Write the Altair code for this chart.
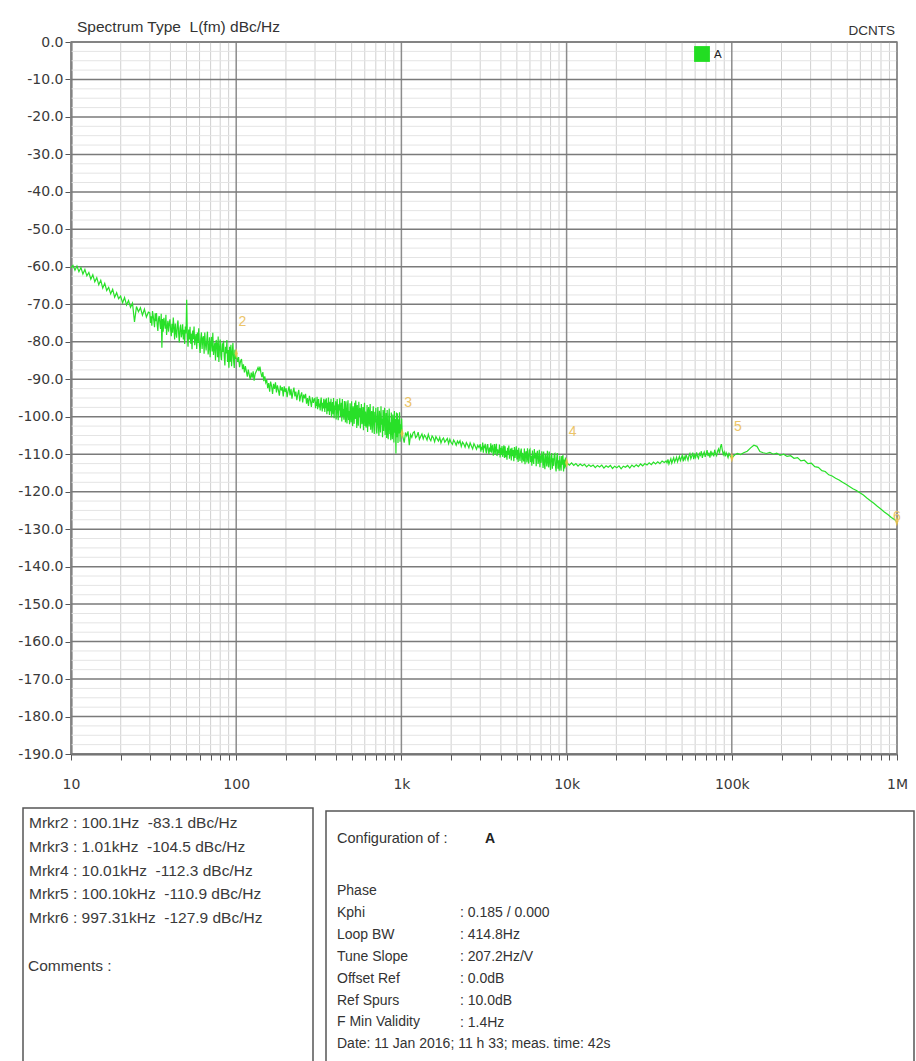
import altair as alt
import numpy as np
import pandas as pd

# ---------------- values ----------------
# each noisy segment: (start Hz, end Hz, levels in dBc/Hz)
lv_10_30 = [-60.3, -59.6, -60.9, -59.8, -61.3, -60.2, -61.9, -60.7, -62.4, -61.5, -63.3, -62.1, -64.0,
            -62.9, -64.8, -63.6, -65.7, -64.4, -66.3, -65.5, -67.2, -66.0, -68.1, -66.9, -68.5, -67.8,
            -69.6, -68.2, -70.2, -69.0, -70.8, -69.7, -74.7, -70.6, -72.0, -70.9, -72.9, -71.3, -73.4, -72.1]
lv_30_100 = [-72.3, -75.0, -73.2, -75.7, -71.8, -73.0, -74.4, -76.1, -72.4, -74.5,
             -72.3, -75.5, -77.1, -73.8, -73.1, -75.0, -76.6, -72.5, -81.6, -73.9,
             -77.3, -73.6, -75.1, -76.5, -72.8, -78.2, -76.0, -74.4, -77.3, -75.2,
             -74.0, -76.7, -78.5, -75.2, -77.6, -73.5, -76.2, -79.4, -75.1, -77.5,
             -78.9, -75.5, -74.3, -77.7, -80.2, -76.4, -75.4, -78.8, -77.6, -75.3,
             -79.4, -76.8, -80.6, -75.9, -77.8, -68.8, -78.4, -81.3, -76.7, -79.4,
             -76.0, -80.5, -77.8, -82.0, -77.0, -79.3, -75.9, -80.9, -79.1, -77.9,
             -81.9, -77.5, -80.3, -76.4, -80.9, -83.0, -79.1, -77.5, -81.9, -79.1,
             -78.5, -83.2, -77.5, -80.5, -82.3, -79.5, -77.3, -83.4, -81.7, -78.8,
             -84.1, -80.3, -78.7, -82.6, -77.6, -83.5, -81.8, -80.3, -85.0, -79.5,
             -80.6, -84.1, -78.6, -85.4, -81.6, -79.4, -83.7, -84.9, -80.4, -82.7,
             -79.7, -83.8, -86.3, -81.3, -83.1, -79.5, -85.4, -82.2, -86.9, -81.3,
             -85.3, -80.8, -86.5, -82.9, -80.3, -85.0, -87.0, -82.1, -84.6, -83.1]
lv_100_300 = [-85.4, -84.1, -86.8, -85.2, -84.6, -87.3, -86.0, -88.2, -86.5, -87.9,
              -89.3, -87.4, -88.8, -90.1, -88.2, -89.6, -87.9, -90.4, -88.6, -88.0,
              -87.5, -86.9, -87.8, -86.6, -88.3, -89.4, -88.1, -90.5, -89.2, -90.9,
              -90.2, -92.4, -91.0, -93.3, -90.6, -91.8, -93.9, -91.2, -92.6, -90.8,
              -93.5, -91.6, -92.9, -94.4, -91.7, -93.0, -92.1, -94.6, -91.9, -93.4,
              -92.4, -94.8, -93.1, -91.9, -94.3, -92.6, -95.2, -93.4, -92.2, -94.6,
              -93.3, -95.6, -94.0, -92.8, -95.9, -94.4, -93.5, -96.2, -94.1, -95.1,
              -93.9, -96.5, -95.0, -97.1, -94.4, -95.7, -97.4, -94.8, -96.3, -95.3]
lv_300_1k = [-95.1, -97.7, -96.0, -97.1, -94.7, -98.0, -95.7, -95.3, -97.5, -96.5,
             -98.3, -95.8, -94.9, -97.2, -98.6, -96.3, -97.8, -95.2, -96.9, -98.7,
             -95.4, -97.7, -95.1, -99.3, -96.3, -98.5, -94.9, -97.4, -99.5, -96.0,
             -98.5, -95.2, -100.1, -97.3, -96.1, -99.3, -95.0, -100.4, -97.0, -98.2,
             -95.9, -100.7, -97.3, -95.3, -99.2, -100.9, -96.7, -98.3, -95.1, -100.0,
             -98.8, -96.3, -101.3, -95.3, -99.9, -97.9, -100.8, -95.8, -97.3, -101.5,
             -95.9, -99.7, -101.8, -97.1, -95.6, -100.9, -98.5, -102.0, -96.4, -99.4,
             -101.5, -95.9, -99.4, -102.5, -97.2, -98.4, -101.9, -96.3, -100.6, -95.7,
             -98.4, -103.0, -96.9, -100.7, -102.4, -96.0, -99.9, -97.7, -103.1, -99.2,
             -96.6, -102.0, -100.7, -97.4, -103.6, -98.9, -96.3, -102.5, -98.6, -102.9,
             -101.6, -96.9, -104.1, -99.1, -97.4, -102.6, -100.4, -96.6, -103.5, -99.5,
             -98.5, -104.3, -100.1, -97.2, -102.6, -104.6, -98.7, -101.5, -97.6, -103.5,
             -104.5, -99.8, -97.4, -102.8, -105.1, -98.4, -100.7, -104.2, -97.2, -102.1,
             -100.5, -105.5, -98.2, -103.8, -99.7, -97.6, -104.9, -101.9, -99.0, -105.7,
             -98.2, -103.8, -106.0, -100.3, -97.8, -104.7, -101.5, -106.3, -98.9, -103.2,
             -106.0, -99.4, -101.5, -106.9, -98.5, -104.3, -100.6, -109.8, -98.9, -105.5,
             -99.1, -107.0, -100.7, -104.5, -98.8, -106.7, -102.0, -104.3, -100.5, -104.5]
lv_1k_3k = [-106.9, -104.2, -105.1, -103.9, -107.6, -104.8, -105.5, -104.3, -104.0, -105.6,
            -105.2, -104.1, -106.0, -105.3, -104.6, -105.9, -104.9, -105.4, -106.2, -104.7,
            -105.8, -106.4, -105.1, -105.6, -106.7, -105.3, -105.9, -106.5, -105.5, -107.0,
            -106.1, -105.7, -106.8, -106.3, -105.8, -107.2, -106.0, -106.9, -107.4, -106.2,
            -106.8, -107.6, -106.5, -107.1, -106.4, -107.9, -106.8, -107.3, -108.1, -106.9,
            -107.5, -108.3, -107.0, -107.8, -108.6, -107.2, -107.9, -108.7, -107.6, -108.2]
lv_3k_10k = [-107.3, -109.3, -108.0, -108.8, -106.9, -109.6, -107.7, -108.4, -107.2, -109.1,
             -109.8, -107.8, -107.3, -108.9, -110.0, -108.2, -109.3, -107.1, -109.6, -107.9,
             -107.7, -110.4, -109.1, -107.3, -110.0, -108.4, -107.2, -110.5, -108.7, -109.7,
             -109.6, -107.4, -110.9, -108.3, -110.1, -107.8, -110.7, -108.9, -107.6, -111.0,
             -107.9, -110.8, -109.1, -111.5, -108.3, -110.1, -107.7, -111.2, -109.7, -108.5,
             -111.7, -108.3, -110.5, -108.9, -111.9, -108.1, -111.0, -109.5, -107.9, -111.4,
             -108.8, -112.1, -108.3, -110.5, -111.8, -109.3, -108.5, -112.3, -109.6, -111.1,
             -111.9, -108.5, -112.7, -109.8, -109.2, -112.2, -108.4, -111.3, -112.5, -109.0,
             -108.7, -112.1, -110.4, -113.1, -109.0, -111.5, -112.6, -108.6, -111.1, -109.6,
             -113.2, -110.0, -109.1, -112.6, -111.6, -108.8, -113.5, -110.3, -112.3, -109.2,
             -110.6, -113.7, -109.3, -112.5, -114.0, -109.9, -111.2, -113.3, -109.1, -112.1,
             -113.5, -109.3, -112.0, -114.2, -110.4, -109.7, -113.9, -111.1, -113.1, -110.0,
             -109.8, -113.2, -114.6, -111.0, -109.7, -113.9, -111.6, -114.4, -110.4, -112.9,
             -114.4, -110.5, -112.8, -110.2, -114.6, -111.4, -113.8, -110.9, -113.3, -112.3]
lv_10k_40k = [-112.9, -112.3, -113.0, -112.5, -113.2, -112.6, -113.1, -112.7, -113.4, -112.8,
              -113.3, -112.9, -113.6, -113.0, -113.4, -112.9, -113.7, -113.1, -113.5, -113.0,
              -113.8, -113.2, -113.6, -113.1, -113.9, -113.2, -113.5, -113.0, -113.7, -112.9,
              -113.4, -112.8, -113.3, -112.6, -113.1, -112.5, -112.9, -112.3, -112.8, -112.1,
              -112.6, -112.0, -112.5, -111.8, -112.2]
lv_40k_100k = [-111.8, -112.3, -111.4, -112.6, -111.9, -111.2, -112.4, -111.6, -110.9, -112.1,
               -111.5, -110.8, -112.0, -111.3, -110.6, -111.7, -111.0, -110.3, -111.9, -110.7,
               -111.4, -110.1, -110.9, -111.6, -110.4, -109.8, -111.2, -110.5, -109.6, -111.3,
               -110.2, -110.9, -109.5, -110.6, -111.1, -109.8, -110.3, -109.2, -111.0, -110.0,
               -109.4, -110.7, -109.9, -108.9, -110.5, -109.6, -110.9, -109.1, -110.2, -109.7,
               -110.6, -108.8, -109.9, -110.4, -109.2, -108.6, -109.8, -108.1, -107.3, -108.9,
               -110.1, -109.4, -110.6, -109.6, -110.2, -110.9, -109.8, -110.3, -110.7, -110.9]
seg_100k_1M = [
    (104000, -110.2), (108000, -109.8), (113000, -110.1), (118000, -109.6), (124000, -109.2),
    (130000, -108.3), (136000, -107.6), (142000, -107.9), (148000, -109.3), (155000, -109.6),
    (162000, -109.8), (170000, -109.5), (178000, -110.0), (187000, -109.7), (196000, -110.3),
    (206000, -110.0), (216000, -110.6), (227000, -110.4), (238000, -111.1), (250000, -110.9),
    (262000, -111.8), (275000, -111.6), (289000, -112.5), (303000, -112.4), (318000, -113.3),
    (334000, -113.5), (351000, -114.4), (368000, -114.6), (386000, -115.5), (405000, -115.8),
    (425000, -116.4), (446000, -116.9), (468000, -117.5), (491000, -118.0), (515000, -118.6),
    (541000, -119.2), (568000, -119.7), (596000, -120.3), (626000, -120.9), (657000, -121.7),
    (690000, -122.4), (724000, -123.1), (760000, -123.9), (798000, -124.6), (838000, -125.4),
    (880000, -126.1), (924000, -126.9), (970000, -127.5), (997310, -127.9),
]
segments = [
    (10, 29.4, lv_10_30), (30, 100.1, lv_30_100), (102, 297, lv_100_300),
    (300, 1010, lv_300_1k), (1040, 2950, lv_1k_3k), (3000, 10010, lv_3k_10k),
    (10400, 39000, lv_10k_40k), (40000, 100100, lv_40k_100k),
]

marker_freq = [100.1, 1010, 10010, 100100, 997310]
marker_level = [-83.1, -104.5, -112.3, -110.9, -127.9]
marker_label = ["2", "3", "4", "5", "6"]

y_ticks = [-190, -180, -170, -160, -150, -140, -130, -120, -110, -100,
           -90, -80, -70, -60, -50, -40, -30, -20, -10, 0]
x_decades = [10, 100, 1000, 10000, 100000, 1000000]
x_all_ticks = [m * d for d in [10, 100, 1000, 10000, 100000] for m in range(1, 10)] + [1000000]
x_minor = [v for v in x_all_ticks if v not in x_decades]
y_minor = [t + o for t in y_ticks[:-1] for o in (2.5, 5.0, 7.5)]

NB = "\u00a0"
marker_lines = [
    "Mrkr2 : 100.1Hz" + NB + NB + "-83.1 dBc/Hz",
    "Mrkr3 : 1.01kHz" + NB + NB + "-104.5 dBc/Hz",
    "Mrkr4 : 10.01kHz" + NB + NB + "-112.3 dBc/Hz",
    "Mrkr5 : 100.10kHz" + NB + NB + "-110.9 dBc/Hz",
    "Mrkr6 : 997.31kHz" + NB + NB + "-127.9 dBc/Hz",
]
comments_text = "Comments :"
title_text = "Spectrum Type" + NB + NB + "L(fm) dBc/Hz"
config_names = ["Phase", "Kphi", "Loop BW", "Tune Slope", "Offset Ref", "Ref Spurs",
                "F Min Validity", "Date: 11 Jan 2016; 11 h 33; meas. time: 42s"]
config_values = [": 0.185 / 0.000", ": 414.8Hz", ": 207.2Hz/V", ": 0.0dB", ": 10.0dB", ": 1.4Hz"]

# ---------------- build ----------------
rows = []
for f0, f1, lv in segments:
    for f, v in zip(np.geomspace(f0, f1, len(lv)), lv):
        rows.append((float(f), v))
rows += seg_100k_1M
df = pd.DataFrame(rows, columns=["f", "db"])
df["i"] = range(len(df))
mk = pd.DataFrame({"f": marker_freq, "db": marker_level, "lab": marker_label})

W, H = 826, 712
xscale = alt.Scale(type="log", domain=[10, 1000000], nice=False)
yscale = alt.Scale(domain=[-190, 0], nice=False, zero=False)
lab_font = "DejaVu Sans"
xaxis = alt.Axis(values=x_all_ticks, grid=False, title=None, tickSize=6, tickColor="#555",
                 labelExpr="datum.value == 10 ? '10' : datum.value == 100 ? '100' : datum.value == 1000 ? '1k' : datum.value == 10000 ? '10k' : datum.value == 100000 ? '100k' : datum.value == 1000000 ? '1M' : ''",
                 labelFlush=False, labelOverlap=False, labelFont=lab_font, labelFontSize=14,
                 labelColor="#3a3a3a", labelPadding=17, domainColor="#666", domainWidth=2)
yaxis = alt.Axis(values=y_ticks, grid=False, title=None, tickSize=6, tickColor="#555",
                 labelExpr="(datum.value < 0 ? '-' : '') + format(abs(datum.value), '.1f')",
                 labelFlush=False, labelOverlap=False, labelFont=lab_font, labelFontSize=14,
                 labelColor="#3a3a3a", labelPadding=2, domainColor="#666", domainWidth=2)

X = lambda f: alt.X(f, scale=xscale, axis=xaxis)
Y = lambda f: alt.Y(f, scale=yscale, axis=yaxis)

one = alt.Data(values=[{}])

vminor = alt.Chart(pd.DataFrame({"f": x_minor})).mark_rule(color="#d0d0d0", strokeWidth=1).encode(x=X("f:Q"))
hminor = alt.Chart(pd.DataFrame({"db": y_minor})).mark_rule(color="#e4e4e4", strokeWidth=1).encode(y=Y("db:Q"))
vmajor = alt.Chart(pd.DataFrame({"f": x_decades})).mark_rule(color="#8c8c8c", strokeWidth=1.5).encode(x=X("f:Q"))
hmajor = alt.Chart(pd.DataFrame({"db": y_ticks})).mark_rule(color="#7a7a7a", strokeWidth=1.5).encode(y=Y("db:Q"))

line = alt.Chart(df).mark_line(color="#28e028", strokeWidth=1.2).encode(
    x=X("f:Q"), y=Y("db:Q"), order="i:Q")

mpts = alt.Chart(mk).mark_point(shape="M0,-1L0.3,0L0,1L-0.3,0Z", filled=True, size=110,
                                 color="#e8c24a", opacity=0.9).encode(x=X("f:Q"), y=Y("db:Q"))
mlabs = alt.Chart(mk).transform_filter("datum.lab != '6'").mark_text(
    color="#ecc468", font="Liberation Sans", fontSize=14, dx=6, dy=-31, align="center",
    baseline="middle").encode(x=X("f:Q"), y=Y("db:Q"), text="lab:N")
mlab6 = alt.Chart(mk).transform_filter("datum.lab == '6'").mark_text(
    color="#ecc468", font="Liberation Sans", fontSize=14, dx=0, dy=-4, align="center",
    baseline="middle").encode(x=X("f:Q"), y=Y("db:Q"), text="lab:N")

title = alt.Chart(one).mark_text(text=title_text, align="left", baseline="alphabetic",
                                 font="Liberation Sans", fontSize=15.5, color="#333").encode(
    x=alt.value(6), y=alt.value(-10))
dcnts = alt.Chart(one).mark_text(text="DCNTS", align="right", baseline="alphabetic",
                                 font="Liberation Sans", fontSize=13.5, color="#333").encode(
    x=alt.value(824), y=alt.value(-7))
leg_sq = alt.Chart(one).mark_square(size=250, color="#22dd22", opacity=1).encode(
    x=alt.value(631), y=alt.value(12))
leg_a = alt.Chart(one).mark_text(text="A", align="left", baseline="middle",
                                 font="Liberation Sans", fontSize=11.5, color="#222").encode(
    x=alt.value(643), y=alt.value(13))

box_l = alt.Chart(one).mark_rect(fill="white", stroke="#555", strokeWidth=1.5).encode(
    x=alt.value(-48), x2=alt.value(242), y=alt.value(766), y2=alt.value(1040))
box_r = alt.Chart(one).mark_rect(fill="white", stroke="#555", strokeWidth=1.5).encode(
    x=alt.value(255), x2=alt.value(843), y=alt.value(769), y2=alt.value(1040))

txt_l = alt.Chart(one).mark_text(text=marker_lines, align="left", baseline="alphabetic",
                                 font="Liberation Sans", fontSize=15.5, lineHeight=23.8,
                                 color="#3a3a3a").encode(x=alt.value(-42), y=alt.value(786))
txt_c = alt.Chart(one).mark_text(text=comments_text, align="left", baseline="alphabetic",
                                 font="Liberation Sans", fontSize=15.5,
                                 color="#3a3a3a").encode(x=alt.value(-43), y=alt.value(929))
cfg = alt.Chart(one).mark_text(text="Configuration of  :", align="left", baseline="alphabetic",
                               font="Liberation Sans", fontSize=14.5, color="#333").encode(
    x=alt.value(266), y=alt.value(801))
cfg_a = alt.Chart(one).mark_text(text="A", align="left", baseline="alphabetic",
                                 font="Liberation Sans", fontSize=14, fontWeight="bold",
                                 color="#222").encode(x=alt.value(414), y=alt.value(801))
txt_names = alt.Chart(one).mark_text(text=config_names, align="left", baseline="alphabetic",
                                     font="Liberation Sans", fontSize=14, lineHeight=21.9,
                                     color="#333").encode(x=alt.value(266), y=alt.value(853))
txt_vals = alt.Chart(one).mark_text(text=config_values, align="left", baseline="alphabetic",
                                    font="Liberation Sans", fontSize=14, lineHeight=21.9,
                                    color="#333").encode(x=alt.value(389), y=alt.value(875))

chart = alt.layer(
    vminor, hminor, vmajor, hmajor, line, mpts, mlabs, mlab6,
    title, dcnts, leg_sq, leg_a, box_l, box_r, txt_l, txt_c, cfg, cfg_a, txt_names, txt_vals,
).properties(
    width=W, height=H,
    padding={"left": 71, "top": 42, "right": 19, "bottom": 307},
    autosize=alt.AutoSizeParams(type="none"),
    background="white",
).configure_view(stroke="#888", strokeWidth=1.5)

chart.save("out.html", embed_options={"renderer": "svg", "actions": False})
